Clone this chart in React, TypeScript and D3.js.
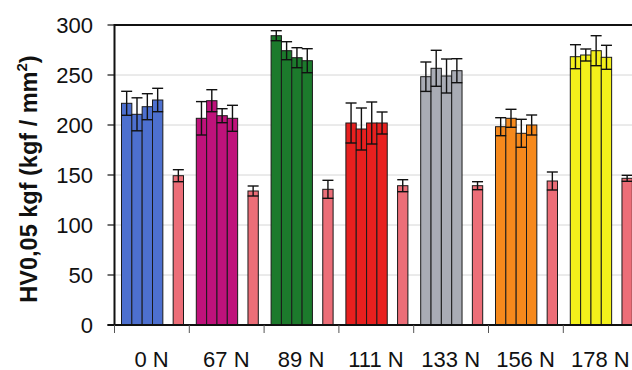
import React from "react";
import * as d3 from "d3";

const categories = ["0 N", "67 N", "89 N", "111 N", "133 N", "156 N", "178 N"];
const groupColors = ["#4d70cf", "#bf127b", "#1c7a2c", "#e8201f", "#a9acb5", "#f6891c", "#f3f01b"];
const referenceColor = "#ec6e78";
const treatedValues = [
  [221.7, 210.7, 218.3, 225],
  [206.7, 224.3, 209.3, 206.7],
  [289.3, 274.3, 267.3, 264.3],
  [202, 196, 202, 202],
  [248.3, 256.7, 249, 254.3],
  [198.3, 206.7, 191.7, 200],
  [268.3, 270, 274.3, 267.7],
];
const treatedErrors = [
  [12, 16.5, 13, 11.7],
  [16.7, 11, 7, 13],
  [5, 9, 10, 12],
  [20, 21, 21, 11],
  [14.7, 18, 17, 12],
  [9, 9, 14, 10],
  [12, 6, 15, 12],
];
const referenceValues = [149.3, 134, 135.7, 139.3, 139.3, 144, 146.7];
const referenceErrors = [6, 5, 9, 6, 4, 9, 3];
const yTicks = [0, 50, 100, 150, 200, 250, 300];

const W = 632;
const H = 370;
const left = 114.5;
const top = 25;
const bottom = 325;
const step = 74.8;

export default function App() {
  const y = d3.scaleLinear().domain([0, 300]).range([bottom, top]);
  const x = d3.scaleBand<string>().domain(categories).range([left, left + step * categories.length]).paddingInner(0).paddingOuter(0);
  const slot = d3.scaleBand<number>().domain([0, 1, 2, 3, 4, 5]).range([7, 69]).paddingInner(0);
  const bw = slot.bandwidth();
  const capHalf = 5.5;
  const font = "'Liberation Sans', Arial, sans-serif";

  const bars: any[] = [];
  categories.forEach((c, gi) => {
    const gx = x(c)!;
    treatedValues[gi].forEach((v, si) => {
      bars.push({ x: gx + slot(si)!, v, e: treatedErrors[gi][si], color: groupColors[gi] });
    });
    bars.push({ x: gx + slot(5)!, v: referenceValues[gi], e: referenceErrors[gi], color: referenceColor });
  });

  return (
    <svg width={W} height={H} style={{ position: "absolute", left: 0, top: 0, background: "#fff" }}>
      {yTicks.filter((t) => t > 0 && t < 300).map((t) => (
        <line key={"g" + t} x1={left} x2={W} y1={y(t)} y2={y(t)} stroke="#d6d6d6" strokeWidth={1} />
      ))}
      {bars.map((b, i) => (
        <rect key={"b" + i} x={b.x} y={y(b.v)} width={bw} height={y(0) - y(b.v)} fill={b.color} stroke="#1a1a1a" strokeWidth={1} />
      ))}
      {bars.map((b, i) => {
        const cx = b.x + bw / 2;
        return (
          <g key={"e" + i} stroke="#111" strokeWidth={1.4}>
            <line x1={cx} x2={cx} y1={y(b.v + b.e)} y2={y(b.v - b.e)} />
            <line x1={cx - capHalf} x2={cx + capHalf} y1={y(b.v + b.e)} y2={y(b.v + b.e)} />
            <line x1={cx - capHalf} x2={cx + capHalf} y1={y(b.v - b.e)} y2={y(b.v - b.e)} />
          </g>
        );
      })}
      <line x1={left} x2={W} y1={top} y2={top} stroke="#111" strokeWidth={2} />
      <line x1={left} x2={left} y1={top - 1} y2={bottom} stroke="#111" strokeWidth={2} />
      <line x1={left - 7} x2={W} y1={bottom} y2={bottom} stroke="#111" strokeWidth={2} />
      {yTicks.map((t) => (
        <g key={"t" + t}>
          <line x1={left - 7} x2={left} y1={y(t)} y2={y(t)} stroke="#111" strokeWidth={1.2} />
          <text x={93} y={y(t) + 8} textAnchor="end" fontFamily={font} fontSize={22} fill="#111">{t}</text>
        </g>
      ))}
      {categories.map((c) => (
        <line key={"xt" + c} x1={x(c)!} x2={x(c)!} y1={bottom} y2={bottom + 8} stroke="#555" strokeWidth={1} />
      ))}
      {categories.map((c) => (
        <text key={"xl" + c} x={x(c)! + 37} y={366.5} textAnchor="middle" fontFamily={font} fontSize={22} fill="#111">{c}</text>
      ))}
      <text transform="translate(36.5,179) rotate(-90)" textAnchor="middle" fontFamily={font} fontSize={23.5} fontWeight="bold" fill="#111">
        HV0,05 kgf (kgf / mm<tspan fontSize={15} dy={-10}>2</tspan><tspan dy={10}>)</tspan>
      </text>
    </svg>
  );
}
